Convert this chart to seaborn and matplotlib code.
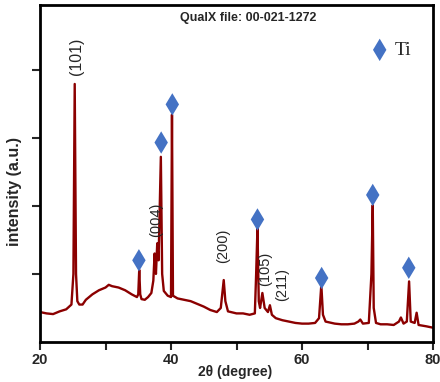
import matplotlib
matplotlib.use("Agg")
import matplotlib.pyplot as plt
import seaborn as sns
import pandas as pd

# ---- data ----
two_theta = [20, 21, 22, 23, 24, 24.8, 25.1, 25.3, 25.5, 25.7, 26, 26.5, 27, 28, 29, 30, 30.5,
             31, 32, 33, 34, 34.8, 35.0, 35.15, 35.3, 35.5, 36, 36.5, 37, 37.3, 37.5, 37.7,
             37.9, 38.1, 38.45, 38.65, 38.9, 39.5, 40.0, 40.15, 40.3, 41, 42, 43, 44, 45, 46,
             47, 47.6, 48.05, 48.3, 48.7, 50, 51, 52, 52.8, 53.0, 53.2, 53.4, 53.6, 53.95,
             54.3, 54.8, 55.1, 55.4, 56, 57, 58, 59, 60, 61, 62, 62.6, 62.95, 63.2, 63.6, 65,
             66, 67, 68, 68.6, 68.9, 69.3, 70.2, 70.6, 70.8, 70.95, 71.3, 72, 73, 74, 74.8,
             75.1, 75.5, 76.0, 76.35, 76.6, 77.2, 77.5, 77.8, 79, 80]
intensity = [0.44, 0.42, 0.41, 0.45, 0.48, 0.55, 1.0, 3.79, 1.0, 0.6, 0.55, 0.55, 0.62, 0.7,
             0.76, 0.8, 0.84, 0.82, 0.8, 0.76, 0.7, 0.66, 0.7, 1.06, 0.7, 0.63, 0.62, 0.66,
             0.72, 0.9, 1.3, 1.0, 1.45, 1.2, 2.72, 1.0, 0.75, 0.68, 0.66, 3.34, 0.68, 0.64,
             0.62, 0.6, 0.56, 0.52, 0.47, 0.44, 0.5, 0.91, 0.6, 0.45, 0.42, 0.42, 0.4, 0.42,
             1.0, 1.68, 0.6, 0.5, 0.72, 0.5, 0.44, 0.54, 0.4, 0.35, 0.32, 0.3, 0.28, 0.27,
             0.27, 0.28, 0.35, 0.84, 0.4, 0.3, 0.27, 0.26, 0.26, 0.27, 0.3, 0.33, 0.27, 0.28,
             1.0, 2.01, 0.5, 0.28, 0.26, 0.26, 0.25, 0.3, 0.36, 0.27, 0.3, 0.89, 0.3, 0.28,
             0.43, 0.25, 0.23, 0.21]

ti_theta = [35.1, 38.5, 40.2, 53.2, 63.0, 70.8, 76.3]
ti_marker_y = [1.2, 2.93, 3.49, 1.8, 0.94, 2.16, 1.09]

hkl_labels = ["(101)", "(004)", "(200)", "(105)", "(211)"]
hkl_x = [25.6, 37.8, 48.0, 54.4, 57.0]
hkl_y = [4.2, 1.8, 1.42, 1.07, 0.84]

x_ticks = [20, 40, 60, 80]
x_minor = [30, 50, 70]
y_ticks = [1, 2, 3, 4]

sns.set_style("ticks")
plt.rcParams['font.family'] = ['Liberation Sans', 'DejaVu Sans']

fig = plt.figure(figsize=(4.4, 3.82), dpi=100)
ax = fig.add_axes([40/440, 40/382, 393/440, 337/382])

df = pd.DataFrame({"two_theta": two_theta, "intensity": intensity})
sns.lineplot(data=df, x="two_theta", y="intensity", color="#8b0000", linewidth=1.7, ax=ax)

mk = pd.DataFrame({"x": ti_theta, "y": ti_marker_y})
sns.scatterplot(data=mk, x="x", y="y", marker="d", s=130, color="#4472C4",
                edgecolor="none", ax=ax, label="Ti", zorder=5)

for lab, lx, ly in zip(hkl_labels, hkl_x, hkl_y):
    fs = 11.5 if lab == "(101)" else 10.5
    ax.text(lx, ly, lab, rotation=90, ha="center", va="center", fontsize=fs)

ax.text(0.53, 0.96, "QualX file: 00-021-1272", transform=ax.transAxes,
        ha="center", va="center", fontsize=9, fontweight="bold")

leg = ax.legend(loc="center left", bbox_to_anchor=(0.805, 0.866), frameon=False,
                prop={"family": "Liberation Serif", "size": 14},
                handletextpad=0.25, borderpad=0.2, handlelength=1.0)

ax.set_xlim(20, 80)
ax.set_ylim(0, 4.95)
ax.set_xticks(x_ticks)
ax.set_xticks(x_minor, minor=True)
ax.set_yticks(y_ticks)
ax.set_yticklabels([])
ax.tick_params(axis="x", which="both", direction="out", length=6, width=1.5)
ax.tick_params(axis="x", which="major", labelsize=10.5, pad=2)
ax.tick_params(axis="y", direction="out", length=6, width=1.5)
for lab in ax.get_xticklabels():
    lab.set_fontweight("bold")
for s in ax.spines.values():
    s.set_visible(True)
    s.set_linewidth(2)
    s.set_color("black")

ax.set_xlabel("2θ (degree)", fontsize=10, fontweight="bold")
ax.xaxis.set_label_coords(0.496, -0.068)
ax.set_ylabel("intensity (a.u.)", fontsize=11.5, fontweight="bold")
ax.yaxis.set_label_coords(-0.046, 0.448)

fig.savefig("out.png", dpi=100, facecolor="white")
